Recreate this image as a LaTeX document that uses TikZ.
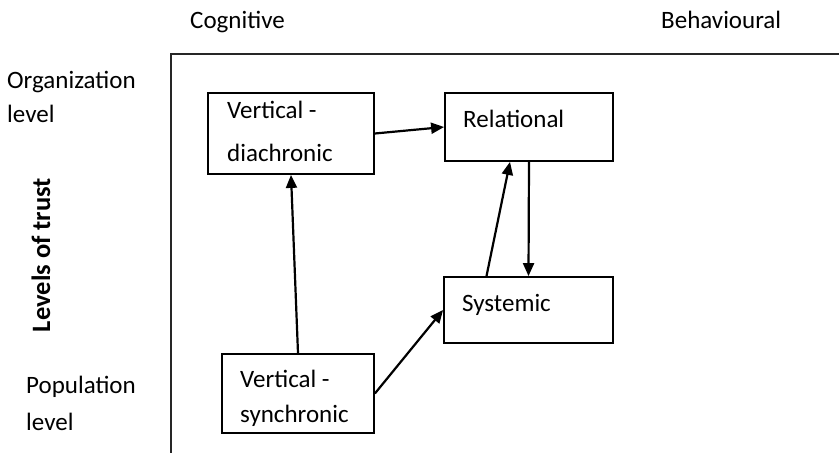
\documentclass[tikz,border=0pt]{standalone}
\usepackage{fontspec}
\setmainfont{Carlito}
\usetikzlibrary{arrows.meta}
\begin{document}
\begin{tikzpicture}[x=1pt,y=-1pt,
  font=\fontsize{25}{29}\selectfont,
  box/.style={draw=black, line width=1.8pt, rectangle, inner sep=0pt},
  txt/.style={anchor=base west, inner sep=0pt},
  conn/.style={line width=2.2pt, -{Triangle[length=13pt,width=11pt]}},
  axis/.style={line width=1.8pt, draw=black!85}
]
\useasboundingbox (0,0) rectangle (839,453);
% axes
\draw[axis] (171,453) -- (171,54) -- (839,54);
% axis labels
\node[txt] (cog) at (190,28) {Cognitive};
\node[txt] (beh) at (661,28) {Behavioural};
\node[txt] (org1) at (7,88) {Organization};
\node[txt] (org2) at (7,122) {level};
\node[txt] (pop1) at (26,393) {Population};
\node[txt] (pop2) at (26,430) {level};
\node[rotate=90, font=\fontsize{26.5}{30}\selectfont\bfseries, inner sep=0pt] (lot) at (41,255) {Levels of trust};
% boxes
\node[box, minimum width=166pt, minimum height=81pt] (vd) at (291,133.5) {};
\node[box, minimum width=168pt, minimum height=68pt] (rel) at (529,127) {};
\node[box, minimum width=169pt, minimum height=66pt] (sys) at (528.5,310) {};
\node[box, minimum width=152pt, minimum height=79pt] (vs) at (298,393.5) {};
% box texts
\node[txt] (vdt1) at (227,118) {Vertical -};
\node[txt] (vdt2) at (227,161) {diachronic};
\node[txt] (relt) at (463,127) {Relational};
\node[txt] (syst) at (462,311) {Systemic};
\node[txt] (vst1) at (240,387) {Vertical -};
\node[txt] (vst2) at (240,422) {synchronic};
% connectors
\draw[conn] (vd.east) -- (rel.west);
\draw[conn] (vs.north) -- (vd.south);
\draw[conn] (vs.east) -- (sys.west);
\draw[conn] ([xshift=-42pt]sys.north) -- ([xshift=-19pt]rel.south);
\draw[conn] (rel.south) -- (sys.north);
\end{tikzpicture}
\end{document}
